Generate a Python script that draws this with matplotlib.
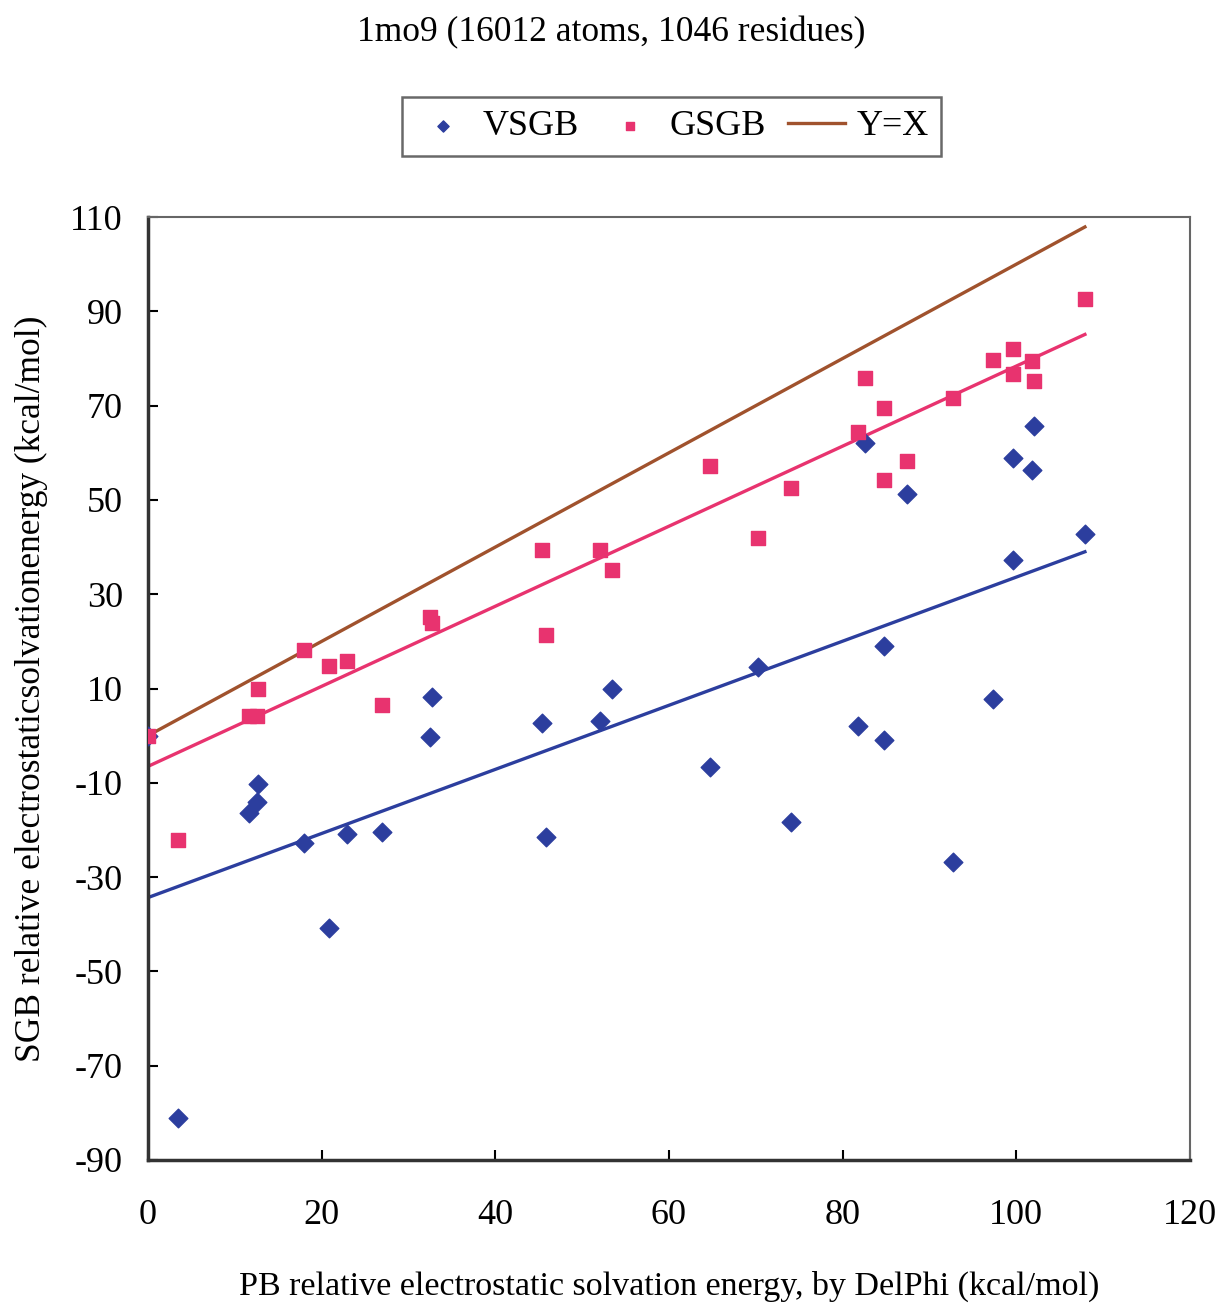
import numpy as np
import matplotlib
matplotlib.use("Agg")
import matplotlib.pyplot as plt

plt.rcParams["font.family"] = ["Liberation Serif", "DejaVu Serif"]
plt.rcParams["axes.unicode_minus"] = False

# PB (DelPhi) relative solvation energies, kcal/mol
pb = [0.0, 3.5, 11.6, 12.6, 12.7, 18.0, 20.8, 22.9, 27.0, 32.5,
      32.7, 45.4, 45.8, 52.1, 53.4, 64.7, 70.3, 74.1, 81.8, 82.6,
      84.8, 84.8, 87.4, 92.7, 97.3, 99.6, 99.6, 101.8, 102.0, 107.9]

# SGB relative solvation energies for the same residues
vsgb = [0.0, -81.0, -16.4, -14.1, -10.3, -22.8, -40.8, -20.9, -20.4, -0.3,
        8.2, 2.7, -21.5, 3.1, 9.9, -6.6, 14.6, -18.3, 2.0, 62.1,
        19.0, -0.9, 51.3, -26.8, 7.8, 58.9, 37.3, 56.3, 65.7, 42.8]
gsgb = [0.0, -22.1, 4.2, 4.2, 9.9, 18.2, 14.8, 15.8, 6.5, 25.2,
        23.9, 39.4, 21.3, 39.4, 35.1, 57.2, 41.9, 52.5, 64.4, 75.9,
        69.5, 54.2, 58.3, 71.6, 79.7, 82.0, 76.7, 79.5, 75.2, 92.6]

blue = "#2c3e9e"
pink = "#e8336f"
brown = "#a0522d"

fig = plt.figure(figsize=(12.23, 13.06), dpi=100)
ax = fig.add_axes([0.121, 0.1118, 0.852, 0.722])

x = np.array(pb)
xs = np.array([x.min(), x.max()])

# linear trend lines for each SGB model
for y, c in [(vsgb, blue), (gsgb, pink)]:
    k, b = np.polyfit(x, np.array(y), 1)
    ax.plot(xs, k * xs + b, color=c, lw=2.4, zorder=2)

ax.plot(xs, xs, color=brown, lw=2.4, zorder=2, label="Y=X")
ax.scatter(pb, vsgb, marker="D", s=90, color=blue, zorder=3, label="VSGB")
ax.scatter(pb, gsgb, marker="s", s=90, color=pink, zorder=3, label="GSGB")

ax.set_xlim(0, 120)
ax.set_ylim(-90, 110)
ax.set_xticks(range(0, 121, 20))
ax.set_yticks(range(-90, 111, 20))
ax.tick_params(direction="in", length=7, width=1.5, labelsize=26)
ax.tick_params(axis="x", pad=28)
ax.tick_params(axis="y", pad=18)
for s in ax.spines.values():
    s.set_color("#666666")
    s.set_linewidth(1.5)
for s in ["left", "bottom"]:
    ax.spines[s].set_color("#333333")
    ax.spines[s].set_linewidth(2.5)

ax.set_xlabel("PB relative electrostatic solvation energy, by DelPhi (kcal/mol)",
              fontsize=24.5, labelpad=28)
ax.set_ylabel("SGB relative electrostaticsolvationenergy (kcal/mol)",
              fontsize=25.5, labelpad=16)

fig.suptitle("1mo9 (16012 atoms, 1046 residues)", fontsize=25.5, y=0.988)

h, l = ax.get_legend_handles_labels()
order = [1, 2, 0]
leg = fig.legend([h[i] for i in order], [l[i] for i in order],
                 loc="center", bbox_to_anchor=(0.549, 0.903), ncol=3,
                 fontsize=26, frameon=True, fancybox=False,
                 edgecolor="#444444", handlelength=1.6, columnspacing=0.6,
                 handletextpad=0.3, borderpad=0.35, markerscale=0.6)
leg.get_frame().set_linewidth(1.8)

fig.savefig("out.png", dpi=100)
